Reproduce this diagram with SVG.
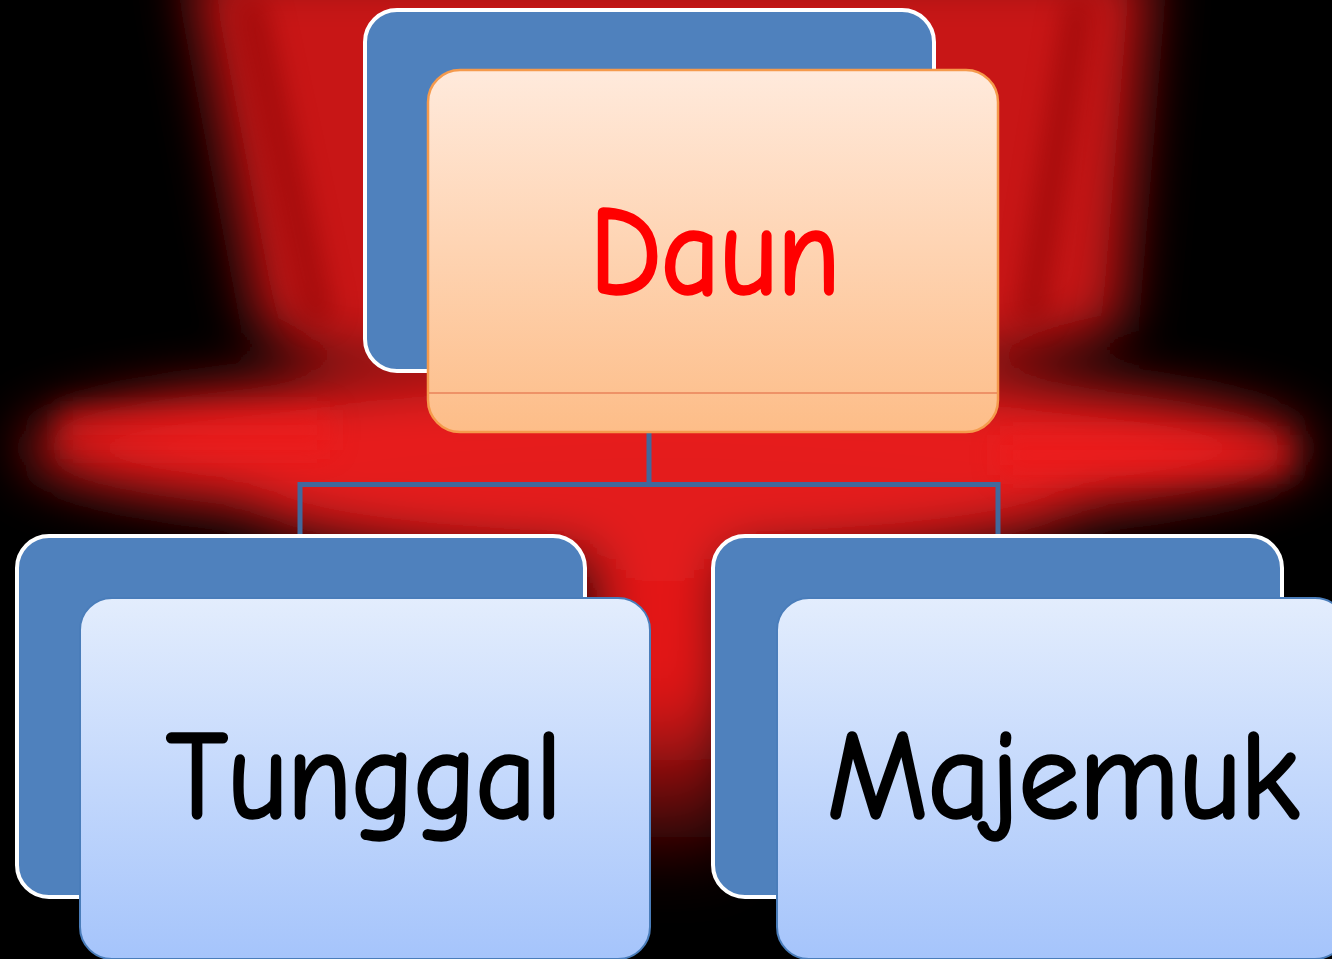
<svg xmlns="http://www.w3.org/2000/svg" width="1332" height="959" viewBox="0 0 1332 959">
<style>
.back{fill:#4F81BD;stroke:#FFFFFF;stroke-width:4}
.frontB{fill:url(#gBlue);stroke:#4A7DBA;stroke-width:2}
.frontO{fill:url(#gOrange);stroke:#F59A4C;stroke-width:2.5}
.lbl{font-family:"Comic Sans MS","Comic Neue","DejaVu Sans",sans-serif;font-size:124px;text-anchor:middle;stroke-width:3.5;stroke-linejoin:round}
.conn{fill:none;stroke:#41699C;stroke-width:5}
</style>
<defs>
<linearGradient id="gOrange" x1="0" y1="0" x2="0" y2="1">
<stop offset="0" stop-color="#FFEADC"/>
<stop offset="1" stop-color="#FDBD88"/>
</linearGradient>
<linearGradient id="gBlue" x1="0" y1="0" x2="0" y2="1">
<stop offset="0" stop-color="#E3EDFD"/>
<stop offset="1" stop-color="#A5C4FB"/>
</linearGradient>
<linearGradient id="gCol" x1="0" y1="0" x2="0" y2="1">
<stop offset="0" stop-color="#E81C1C"/>
<stop offset="0.6" stop-color="#E01818"/>
<stop offset="1" stop-color="#E01818" stop-opacity="0"/>
</linearGradient>
<filter id="blur" filterUnits="userSpaceOnUse" x="-100" y="-100" width="1532" height="1159">
<feGaussianBlur stdDeviation="28"/>
</filter>
<filter id="blur2" filterUnits="userSpaceOnUse" x="-100" y="-100" width="1532" height="1159">
<feGaussianBlur stdDeviation="14"/>
</filter>
</defs>
<g id="background">
<rect x="0" y="0" width="1332" height="959" fill="#000000"/>
<g filter="url(#blur)">
<polygon points="190,-40 1150,-40 1120,330 990,360 330,360 260,330" fill="#C81212"/>
<ellipse cx="666" cy="448" rx="640" ry="78" fill="#E81C1C"/>
<rect x="590" y="420" width="140" height="460" fill="url(#gCol)"/>
<ellipse cx="666" cy="500" rx="420" ry="60" fill="#E31A1A"/>
</g>
<g filter="url(#blur2)" opacity="0.55">
<path d="M250,0 L320,320" stroke="#7A0606" stroke-width="24" fill="none"/>
<path d="M1080,0 L1030,320" stroke="#7A0606" stroke-width="24" fill="none"/>
<path d="M60,430 L330,430" stroke="#F01E1E" stroke-width="40" fill="none"/>
<path d="M1000,455 L1290,455" stroke="#F01E1E" stroke-width="40" fill="none"/>
</g>
</g>
<g id="connectors">
<path class="conn" d="M649,432 V484.5 M300,536 V484.5 H998 V536"/>
</g>
<g id="node-daun">
<rect class="back" x="365" y="10" width="569" height="361" rx="32" ry="32"/>
<rect class="frontO" x="428" y="70" width="570" height="362" rx="32" ry="32"/>
<line x1="429" y1="393" x2="997" y2="393" stroke="#E8825A" stroke-width="1.5"/>
<text class="lbl" x="715" y="293" fill="#FF0000" stroke="#FF0000" font-size="130" textLength="250" lengthAdjust="spacingAndGlyphs">Daun</text>
</g>
<g id="node-tunggal">
<rect class="back" x="17" y="536" width="568" height="361" rx="32" ry="32"/>
<rect class="frontB" x="80" y="598" width="570" height="361" rx="32" ry="32"/>
<text class="lbl" x="364" y="817" fill="#000000" stroke="#000000" textLength="395" lengthAdjust="spacingAndGlyphs">Tunggal</text>
</g>
<g id="node-majemuk">
<rect class="back" x="713" y="536" width="569" height="361" rx="32" ry="32"/>
<rect class="frontB" x="777" y="598" width="570" height="361" rx="32" ry="32"/>
<text class="lbl" x="1063" y="817" fill="#000000" stroke="#000000" textLength="472" lengthAdjust="spacingAndGlyphs">Majemuk</text>
</g>
</svg>
